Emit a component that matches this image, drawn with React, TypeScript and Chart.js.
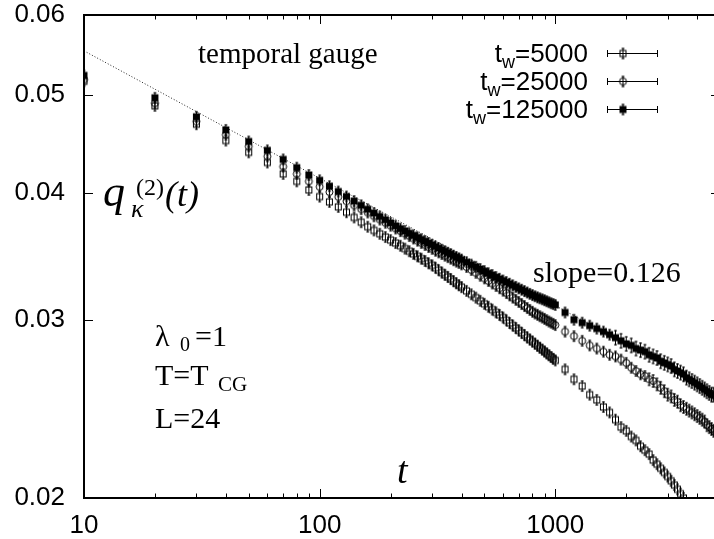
import { useEffect, useRef } from 'react';
import { Chart, registerables } from 'chart.js';
Chart.register(...registerables);

const SANS = '"Liberation Sans", Arial, Helvetica, sans-serif';
const SERIF = '"Liberation Serif", "Times New Roman", serif';

// time axis values (shared by the three series)
const tValues = [
  10, 20, 30, 40, 50, 60, 70, 80, 90, 100,
  110, 120, 130, 140, 150, 160, 170, 180, 190, 200,
  210, 220, 230, 240, 250, 260, 270, 280, 290, 300,
  310, 320, 330, 340, 350, 360, 370, 380, 390, 400,
  420, 440, 460, 480, 500, 520, 540, 560, 580, 600,
  620, 640, 660, 680, 700, 720, 740, 760, 780, 800,
  820, 840, 860, 880, 900, 920, 940, 960, 980, 1000,
  1100, 1200, 1300, 1400, 1500, 1600, 1700, 1800, 1900, 2000,
  2100, 2200, 2300, 2400, 2500, 2600, 2700, 2800, 2900, 3000,
  3100, 3200, 3300, 3400, 3500, 3600, 3700, 3800, 3900, 4000,
  4100, 4200, 4300, 4400, 4500, 4600, 4700, 4800, 4900, 5000,
];

const q_tw5000 = [
  0.0516, 0.0488, 0.0468, 0.0451, 0.0439, 0.0429, 0.0418, 0.0411, 0.0403, 0.0397,
  0.03922, 0.03878, 0.03831, 0.03786, 0.03745, 0.03707, 0.03676, 0.03648, 0.03621, 0.03596,
  0.03572, 0.0355, 0.03527, 0.03506, 0.03485, 0.03466, 0.03447, 0.03429, 0.03411, 0.03395,
  0.03377, 0.03358, 0.0334, 0.03323, 0.03307, 0.03291, 0.03275, 0.0326, 0.03245, 0.03231,
  0.03204, 0.03179, 0.03155, 0.03132, 0.03111, 0.0309, 0.0307, 0.03051, 0.03033, 0.03015,
  0.02996, 0.02978, 0.02961, 0.02944, 0.02928, 0.02912, 0.02897, 0.02882, 0.02868, 0.02855,
  0.02841, 0.02828, 0.02815, 0.02803, 0.02791, 0.02779, 0.02767, 0.02756, 0.02745, 0.02735,
  0.0268, 0.0262, 0.0258, 0.0253, 0.025, 0.0246, 0.0243, 0.0239, 0.0235, 0.0233,
  0.023, 0.0228, 0.0225, 0.0223, 0.0221, 0.0218, 0.0216, 0.0214, 0.0212, 0.021,
  0.0208, 0.0206, 0.0204, 0.0202, 0.02, 0.0197, null, null, null, null,
  null, null, null, null, null, null, null, null, null, null,
];

const q_tw25000 = [
  0.0518, 0.0491, 0.0471, 0.0457, 0.0445, 0.0435, 0.0425, 0.0418, 0.0411, 0.0406,
  0.04012, 0.03968, 0.03928, 0.03892, 0.03858, 0.03829, 0.03796, 0.03768, 0.03741, 0.03716,
  0.03692, 0.0367, 0.03649, 0.03629, 0.03609, 0.03591, 0.03573, 0.03556, 0.0354, 0.03525,
  0.0351, 0.03497, 0.03484, 0.03471, 0.03459, 0.03447, 0.03435, 0.03424, 0.03414, 0.03403,
  0.03383, 0.0336, 0.03338, 0.03316, 0.03296, 0.03277, 0.03258, 0.0324, 0.03223, 0.03205,
  0.03188, 0.03171, 0.03155, 0.03139, 0.03124, 0.03109, 0.03095, 0.03081, 0.03068, 0.03055,
  0.03043, 0.03034, 0.03024, 0.03015, 0.03006, 0.02997, 0.02988, 0.0298, 0.02972, 0.02964,
  0.0292, 0.0289, 0.0286, 0.0283, 0.0281, 0.0279, 0.0277, 0.0276, 0.0274, 0.0272,
  0.0269, 0.0267, 0.0265, 0.0264, 0.0262, 0.0261, 0.0259, 0.0257, 0.0255, 0.0253,
  0.0252, 0.025, 0.0249, 0.0247, 0.0246, 0.0245, 0.0244, 0.0243, 0.0242, 0.0241,
  0.024, 0.0239, 0.0238, 0.0236, 0.0235, 0.0234, 0.0233, 0.0232, 0.0232, 0.0231,
];

const q_tw125000 = [
  0.0523, 0.0497, 0.0476, 0.0462, 0.045, 0.0441, 0.0432, 0.0424, 0.0417, 0.0412,
  0.04065, 0.04016, 0.03971, 0.0393, 0.03892, 0.03857, 0.03824, 0.03794, 0.03766, 0.03739,
  0.03714, 0.0369, 0.03671, 0.03652, 0.03635, 0.03618, 0.03602, 0.03587, 0.03572, 0.03558,
  0.03544, 0.03531, 0.03518, 0.03506, 0.03494, 0.03483, 0.03471, 0.0346, 0.0345, 0.0344,
  0.0342, 0.03401, 0.03384, 0.03367, 0.03351, 0.03335, 0.03321, 0.03306, 0.03293, 0.0328,
  0.03268, 0.03256, 0.03244, 0.03233, 0.03222, 0.03212, 0.03202, 0.03192, 0.03182, 0.03173,
  0.03165, 0.03157, 0.0315, 0.03143, 0.03136, 0.03129, 0.03122, 0.03115, 0.03109, 0.03103,
  0.0305, 0.03, 0.0298, 0.0296, 0.0294, 0.0292, 0.029, 0.0288, 0.0286, 0.0284,
  0.0283, 0.0281, 0.028, 0.0279, 0.0277, 0.0276, 0.0275, 0.0273, 0.0272, 0.0271,
  0.027, 0.0268, 0.0267, 0.0266, 0.0265, 0.0263, 0.0262, 0.0261, 0.026, 0.0259,
  0.0258, 0.0257, 0.0256, 0.0255, 0.0254, 0.0253, 0.0253, 0.0252, 0.0251, 0.0251,
];

// power-law guide (slope 0.126)
const slopeT = [10, 5000];
const slopeQ = [0.0553, 0.0253];

const seriesNames = ['5000', '25000', '125000'];
const xLabelTicks = [10, 100, 1000];
const xMinorTicks = [20, 30, 40, 50, 60, 70, 80, 90, 200, 300, 400, 500, 600, 700, 800, 900, 2000, 3000, 4000, 5000];
const yLabelTicks = [0.02, 0.03, 0.04, 0.05, 0.06];

type Kind = 'box' | 'circle' | 'filled';

function makeMarker(kind: Kind, bar: number): HTMLCanvasElement {
  const c = document.createElement('canvas');
  const cx = 6.5;
  const cy = bar + 2.5;
  c.width = 13;
  c.height = Math.round(2 * cy);
  const g = c.getContext('2d') as CanvasRenderingContext2D;
  g.strokeStyle = '#000';
  g.fillStyle = '#000';
  g.lineWidth = 1;
  g.beginPath();
  g.moveTo(cx, cy - bar);
  g.lineTo(cx, cy + bar);
  g.moveTo(cx - 1.5, cy - bar + 0.5);
  g.lineTo(cx + 1.5, cy - bar + 0.5);
  g.moveTo(cx - 1.5, cy + bar - 0.5);
  g.lineTo(cx + 1.5, cy + bar - 0.5);
  g.stroke();
  if (kind === 'box') {
    g.strokeRect(cx - 3, cy - 3, 6, 6);
  } else if (kind === 'circle') {
    g.beginPath();
    g.arc(cx, cy, 3.5, 0, Math.PI * 2);
    g.stroke();
  } else {
    g.fillRect(cx - 3.5, cy - 3.5, 7, 7);
  }
  return c;
}

function toPoints(ts: number[], qs: (number | null)[]) {
  const out: { x: number; y: number }[] = [];
  for (let i = 0; i < ts.length && i < qs.length; i++) {
    const q = qs[i];
    if (q !== null && q !== undefined) out.push({ x: ts[i], y: q });
  }
  return out;
}

export default function App() {
  const ref = useRef<HTMLCanvasElement | null>(null);

  useEffect(() => {
    if (!ref.current) return;
    const mBox = makeMarker('box', 5.5);
    const mCircle = makeMarker('circle', 5.5);
    const mCircleBig = makeMarker('circle', 6.5);
    const mFilled = makeMarker('filled', 5.5);
    const mFilledBig = makeMarker('filled', 7.5);
    const legendMarkers = [mBox, mCircle, mFilled];

    const decor = {
      id: 'decor',
      afterDraw(chart: any) {
        const { ctx, chartArea: a, scales } = chart;
        const xs = scales.x;
        const ys = scales.y;
        ctx.save();
        ctx.strokeStyle = '#000';
        ctx.fillStyle = '#000';
        ctx.lineWidth = 1;
        ctx.beginPath();
        for (const v of xLabelTicks) {
          const px = Math.round(xs.getPixelForValue(v)) + 0.5;
          ctx.moveTo(px, a.bottom);
          ctx.lineTo(px, a.bottom - 9);
          ctx.moveTo(px, a.top);
          ctx.lineTo(px, a.top + 9);
        }
        for (const v of xMinorTicks) {
          const px = Math.round(xs.getPixelForValue(v)) + 0.5;
          ctx.moveTo(px, a.bottom);
          ctx.lineTo(px, a.bottom - 4.5);
          ctx.moveTo(px, a.top);
          ctx.lineTo(px, a.top + 4.5);
        }
        for (const v of yLabelTicks) {
          const py = Math.round(ys.getPixelForValue(v)) + 0.5;
          ctx.moveTo(a.left, py);
          ctx.lineTo(a.left + 9, py);
          ctx.moveTo(a.right, py);
          ctx.lineTo(a.right - 9, py);
        }
        ctx.stroke();
        ctx.lineWidth = 2;
        ctx.strokeRect(a.left, a.top, a.right - a.left, a.bottom - a.top);

        ctx.textAlign = 'left';
        ctx.textBaseline = 'alphabetic';
        const put = (s: string, x: number, y: number, font: string) => {
          ctx.font = font;
          ctx.fillText(s, x, y);
          return ctx.measureText(s).width;
        };
        const L = a.left;
        const T = a.top;

        // annotations
        put('temporal gauge', L + 114, T + 48, `29px ${SERIF}`);
        put('slope=0.126', L + 449, T + 267, `30px ${SERIF}`);
        put('\u03bb', L + 71, T + 331, `30px ${SERIF}`);
        put('0', L + 96, T + 336, `20px ${SERIF}`);
        put('=1', L + 111, T + 331, `30px ${SERIF}`);
        put('T=T', L + 71, T + 370, `30px ${SERIF}`);
        put('CG', L + 134, T + 376, `21px ${SERIF}`);
        put('L=24', L + 71, T + 413, `30px ${SERIF}`);

        // y axis title q_kappa^(2)(t)
        const qw = put('q', L + 19, T + 191, `italic 44px ${SERIF}`);
        put('\u03ba', L + 19 + qw + 6, T + 202, `italic 26px ${SERIF}`);
        put('(2)', L + 52, T + 180, `24px ${SERIF}`);
        put('(t)', L + 81, T + 191, `italic 36px ${SERIF}`);
        // x axis title
        put('t', L + 313, T + 468, `italic 38px ${SERIF}`);

        // legend
        const rightX = 588;
        const rows = [53, 81, 109];
        for (let i = 0; i < seriesNames.length; i++) {
          const cy = rows[i];
          const base = cy + 9;
          ctx.font = `26px ${SANS}`;
          const wt = ctx.measureText('t').width;
          const rest = '=' + seriesNames[i];
          const wr = ctx.measureText(rest).width;
          ctx.font = `18px ${SANS}`;
          const ww = ctx.measureText('w').width;
          const x0 = rightX - (wt + ww + wr);
          put('t', x0, base, `26px ${SANS}`);
          put('w', x0 + wt, base + 6, `18px ${SANS}`);
          put(rest, x0 + wt + ww, base, `26px ${SANS}`);
          ctx.lineWidth = 1;
          ctx.beginPath();
          ctx.moveTo(607, cy + 0.5);
          ctx.lineTo(658, cy + 0.5);
          ctx.moveTo(607.5, cy - 3);
          ctx.lineTo(607.5, cy + 4);
          ctx.moveTo(657.5, cy - 3);
          ctx.lineTo(657.5, cy + 4);
          ctx.stroke();
          const m = legendMarkers[i];
          ctx.drawImage(m, 623 - m.width / 2, cy + 0.5 - m.height / 2);
        }
        ctx.restore();
      },
    };

    const chart = new Chart(ref.current, {
      type: 'scatter',
      data: {
        datasets: [
          {
            label: 'tw=125000',
            data: toPoints(tValues, q_tw125000),
            pointStyle: ((c: any) => (c.raw && c.raw.x >= 1800 ? mFilledBig : mFilled)) as any,
            pointRadius: 4,
            pointHoverRadius: 4,
            showLine: false,
            order: 1,
          },
          {
            label: 'tw=25000',
            data: toPoints(tValues, q_tw25000),
            pointStyle: ((c: any) => (c.raw && c.raw.x >= 2500 ? mCircleBig : mCircle)) as any,
            pointRadius: 4,
            pointHoverRadius: 4,
            showLine: false,
            order: 2,
          },
          {
            label: 'tw=5000',
            data: toPoints(tValues, q_tw5000),
            pointStyle: mBox as any,
            pointRadius: 4,
            pointHoverRadius: 4,
            showLine: false,
            order: 3,
          },
          {
            label: 'slope',
            data: toPoints(slopeT, slopeQ),
            showLine: true,
            borderColor: '#222',
            borderWidth: 1,
            borderDash: [1, 2],
            pointRadius: 0,
            order: 10,
          } as any,
        ],
      },
      options: {
        animation: false,
        responsive: true,
        maintainAspectRatio: false,
        events: [],
        layout: { padding: { left: 0, top: 15, right: 20, bottom: 0 } },
        plugins: { legend: { display: false }, tooltip: { enabled: false } },
        scales: {
          x: {
            type: 'logarithmic',
            min: 10,
            max: 5000,
            grid: { display: false, drawTicks: false },
            border: { display: false },
            afterBuildTicks: (s: any) => {
              s.ticks = xLabelTicks.map((v) => ({ value: v }));
            },
            afterFit: (s: any) => {
              s.height = 41;
              s.paddingLeft = 0;
              s.paddingRight = 0;
            },
            ticks: {
              autoSkip: false,
              maxRotation: 0,
              padding: 15,
              color: '#000',
              font: { family: SANS, size: 26, lineHeight: 1 },
              callback: (v: any) => String(v),
            },
          },
          y: {
            type: 'logarithmic',
            min: 0.02,
            max: 0.06,
            grid: { display: false, drawTicks: false },
            border: { display: false },
            afterBuildTicks: (s: any) => {
              s.ticks = yLabelTicks.map((v) => ({ value: v }));
            },
            afterFit: (s: any) => {
              s.width = 84;
              s.paddingTop = 0;
              s.paddingBottom = 0;
            },
            ticks: {
              autoSkip: false,
              padding: 19,
              color: '#000',
              font: { family: SANS, size: 26, lineHeight: 1 },
              callback: (v: any) => Number(v).toFixed(2),
            },
          },
        },
      },
      plugins: [decor],
    });
    return () => chart.destroy();
  }, []);

  return (
    <div style={{ position: 'fixed', left: 0, top: 0, width: 714, height: 539, overflow: 'hidden', background: '#fff' }}>
      <div style={{ position: 'relative', width: 740, height: 539 }}>
        <canvas ref={ref} />
      </div>
    </div>
  );
}
